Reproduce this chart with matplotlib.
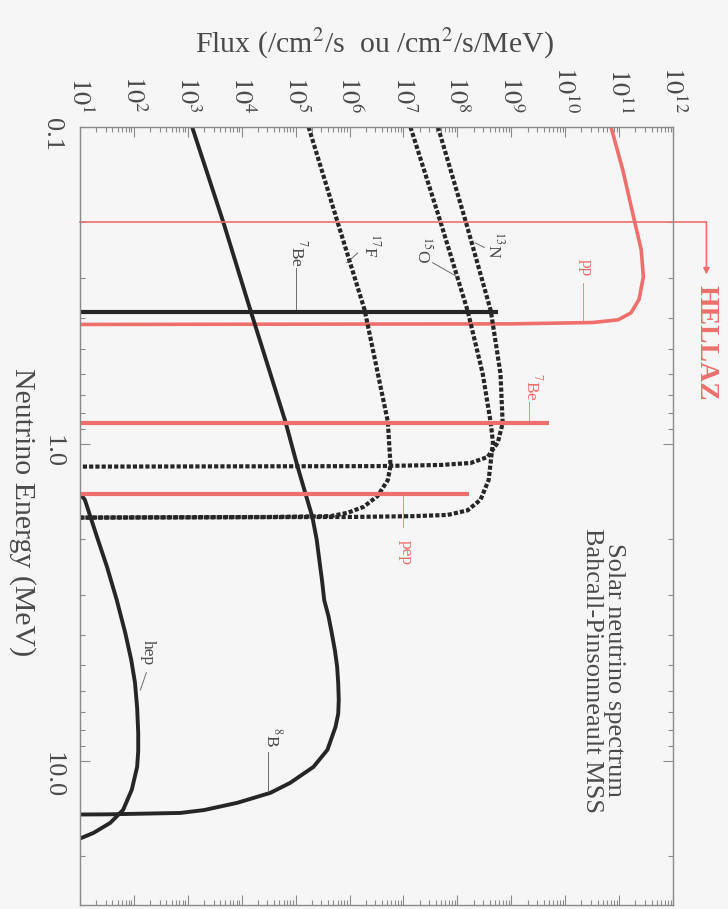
import numpy as np
import matplotlib
matplotlib.use('Agg')
import matplotlib.pyplot as plt
from matplotlib.ticker import LogLocator, NullFormatter, FixedLocator

plt.rcParams['font.family'] = ['Liberation Serif', 'DejaVu Serif']
plt.rcParams['mathtext.fontset'] = 'stix'

RED = '#ee6f6c'
BLACK = '#262626'
GREY = '#4a4a4a'
BG = '#f6f6f6'

# spectra: energy (MeV) and log10 flux (/cm2/s/MeV)
pp_E = [0.100, 0.137, 0.196, 0.244, 0.297, 0.350, 0.386, 0.406, 0.414, 0.418, 0.420]
pp_logF = [10.85, 11.07, 11.28, 11.41, 11.45, 11.37, 11.22, 10.98, 10.5, 9.0, 0.0]

b8_E = [0.10, 0.20, 0.378, 0.85, 1.17, 1.43, 1.70, 2.0, 2.40, 2.7, 3.11, 3.5, 3.95,
        4.5, 5.05, 5.7, 6.42, 7.1, 7.81, 9.23, 10.45, 11.73, 12.62, 13.56, 14.3,
        14.6, 14.75, 14.8]
b8_logF = [3.08, 3.66, 4.16, 4.81, 5.03, 5.18, 5.31, 5.39, 5.45, 5.49, 5.53, 5.61, 5.67,
           5.73, 5.77, 5.79, 5.80, 5.79, 5.74, 5.59, 5.33, 4.90, 4.53, 3.92, 3.3,
           2.86, 1.5, 0.0]

hep_E = [1.40, 1.50, 2.0, 2.44, 3.1, 3.95, 4.8, 5.67, 6.8, 8.16, 9.3, 10.45, 12.34,
         14.28, 15.70, 16.88, 17.50, 18.0]
hep_logF = [0.95, 1.09, 1.33, 1.50, 1.68, 1.84, 1.95, 2.02, 2.06, 2.08, 2.08, 2.06, 1.96,
            1.80, 1.56, 1.25, 1.03, 0.8]

n13_E = [0.10, 0.20, 0.38, 0.60, 0.86, 0.99, 1.10, 1.148, 1.165, 1.175, 1.18]
n13_logF = [7.64, 8.16, 8.62, 8.80, 8.84, 8.75, 8.56, 8.25, 7.70, 6.5, 0.0]

o15_E = [0.10, 0.20, 0.38, 0.60, 0.86, 0.99, 1.30, 1.50, 1.62, 1.675, 1.69, 1.70, 1.71]
o15_logF = [7.13, 7.69, 8.19, 8.47, 8.62, 8.66, 8.58, 8.43, 8.19, 7.82, 7.19, 6.0, 0.0]

f17_E = [0.10, 0.20, 0.378, 0.85, 1.17, 1.30, 1.46, 1.58, 1.65, 1.69, 1.70, 1.71]
f17_logF = [5.24, 5.78, 6.28, 6.71, 6.76, 6.71, 6.52, 6.26, 5.96, 5.65, 4.5, 0.0]

# monoenergetic lines (/cm2/s)
be7_black_E, be7_black_logF = 0.384, 8.75
be7_red_E, be7_red_logF = 0.862, 9.70
pep_E, pep_logF = 1.442, 8.21

hellaz_E = 0.2

flux_exponents = list(range(1, 13))
energy_ticks = [0.1, 1.0, 10.0]
energy_labels = ['0.1', '1.0', '10.0']


def F(v):
    return 10.0 ** np.asarray(v)


fig = plt.figure(figsize=(7.28, 9.09), dpi=100, facecolor=BG)
ax = fig.add_axes([80 / 728, 1 - 905 / 909, 593 / 728, 778 / 909])
ax.set_facecolor(BG)
ax.set_xscale('log')
ax.set_yscale('log')
ax.set_xlim(10, 1e12)
ax.set_ylim(28.5, 0.1)

# continuum spectra
ax.plot(F(pp_logF), pp_E, color=RED, lw=2.6, solid_joinstyle='round')
ax.plot(F(b8_logF), b8_E, color=BLACK, lw=2.8, solid_joinstyle='round')
ax.plot(F(hep_logF), hep_E, color=BLACK, lw=2.8, solid_joinstyle='round')
dots = (0, (1.0, 0.5))
for e, lf in [(n13_E, n13_logF), (o15_E, o15_logF), (f17_E, f17_logF)]:
    ax.plot(F(lf), e, color=BLACK, lw=3.0, linestyle=dots)

# lines
ax.plot([1, F(be7_black_logF)], [be7_black_E] * 2, color=BLACK, lw=3.0, solid_capstyle='butt')
ax.plot([1, F(be7_red_logF)], [be7_red_E] * 2, color=RED, lw=3.0, solid_capstyle='butt')
ax.plot([1, F(pep_logF)], [pep_E] * 2, color=RED, lw=3.0, solid_capstyle='butt')

# HELLAZ threshold
x_hz = 10 ** 12.62
ax.plot([10, x_hz], [hellaz_E, hellaz_E], color=RED, lw=1.2, clip_on=False)
ax.annotate('', xy=(x_hz, 0.292), xytext=(x_hz, hellaz_E), annotation_clip=False,
            arrowprops=dict(arrowstyle='-|>', color=RED, lw=1.2, mutation_scale=9,
                            shrinkA=0, shrinkB=0))
ax.text(x_hz, 0.48, 'HELLAZ', rotation=-90, color=RED, fontsize=20, fontweight='bold',
        ha='center', va='center', clip_on=False)

# curve labels with leader lines
labels = [
    (r'$^{7}$Be', 10 ** 5.03, 0.25, (10 ** 5.01, 0.278), (10 ** 5.01, 0.376), GREY),
    (r'$^{17}$F', 10 ** 6.39, 0.236, (10 ** 6.15, 0.250), (10 ** 5.95, 0.268), GREY),
    (r'$^{15}$O', 10 ** 7.36, 0.244, (10 ** 7.54, 0.268), (10 ** 7.97, 0.295), GREY),
    (r'$^{13}$N', 10 ** 8.70, 0.236, (10 ** 8.50, 0.240), (10 ** 8.33, 0.232), GREY),
    ('pp', 10 ** 10.39, 0.278, (10 ** 10.33, 0.31), (10 ** 10.33, 0.406), RED),
    (r'$^{7}$Be', 10 ** 9.40, 0.66, (10 ** 9.33, 0.74), (10 ** 9.33, 0.845), RED),
    ('pep', 10 ** 7.04, 2.2, (10 ** 7.0, 1.83), (10 ** 7.0, 1.45), RED),
    (r'$^{8}$B', 10 ** 4.57, 8.4, (10 ** 4.49, 9.36), (10 ** 4.49, 12.5), GREY),
    ('hep', 10 ** 2.25, 4.55, (10 ** 2.23, 5.27), (10 ** 2.12, 5.98), GREY),
]
for txt, tx, ty, p0, p1, c in labels:
    ax.text(tx, ty, txt, rotation=-90, color=c, fontsize=12.5, ha='center', va='center')
    ax.plot([p0[0], p1[0]], [p0[1], p1[1]], color=c, lw=0.7, alpha=0.8)

# axes styling
ax.xaxis.set_ticks_position('both')
ax.yaxis.set_ticks_position('both')
ax.xaxis.set_major_locator(FixedLocator([10.0 ** k for k in flux_exponents]))
ax.set_xticklabels([rf'$10^{{{k}}}$' for k in flux_exponents], rotation=-90)
ax.xaxis.set_minor_locator(LogLocator(base=10, subs=np.arange(2, 10), numticks=100))
ax.xaxis.set_minor_formatter(NullFormatter())
ax.yaxis.set_major_locator(FixedLocator(energy_ticks))
ax.set_yticklabels(energy_labels, rotation=-90)
ax.yaxis.set_minor_locator(LogLocator(base=10, subs=np.arange(2, 10), numticks=100))
ax.yaxis.set_minor_formatter(NullFormatter())
ax.tick_params(axis='x', which='both', labeltop=True, labelbottom=False)
ax.tick_params(which='both', direction='in', color='#8a8a8a', width=0.8)
ax.tick_params(which='major', length=7)
ax.tick_params(which='minor', length=3.5)
ax.tick_params(axis='x', labelsize=19, labelcolor=GREY, pad=10)
ax.tick_params(axis='y', labelsize=19, labelcolor=GREY, pad=12)
for s in ax.spines.values():
    s.set_color('#8a8a8a')
    s.set_linewidth(1.0)

fig.text(374 / 728, 1 - 44 / 909, r'Flux (/cm$^{2}$/s  ou /cm$^{2}$/s/MeV)', fontsize=21.5,
         color=GREY, ha='center', va='center')
fig.text(22 / 728, 1 - 512 / 909, 'Neutrino Energy (MeV)', rotation=-90, fontsize=21.5,
         color=GREY, ha='center', va='center')
fig.text(603 / 728, 1 - 670 / 909, 'Solar neutrino spectrum\nBahcall-Pinsonneault MSS',
         rotation=-90, fontsize=19, color=GREY, ha='center', va='center',
         multialignment='center', linespacing=1.0)

fig.savefig('out.png', dpi=100, facecolor=BG)
